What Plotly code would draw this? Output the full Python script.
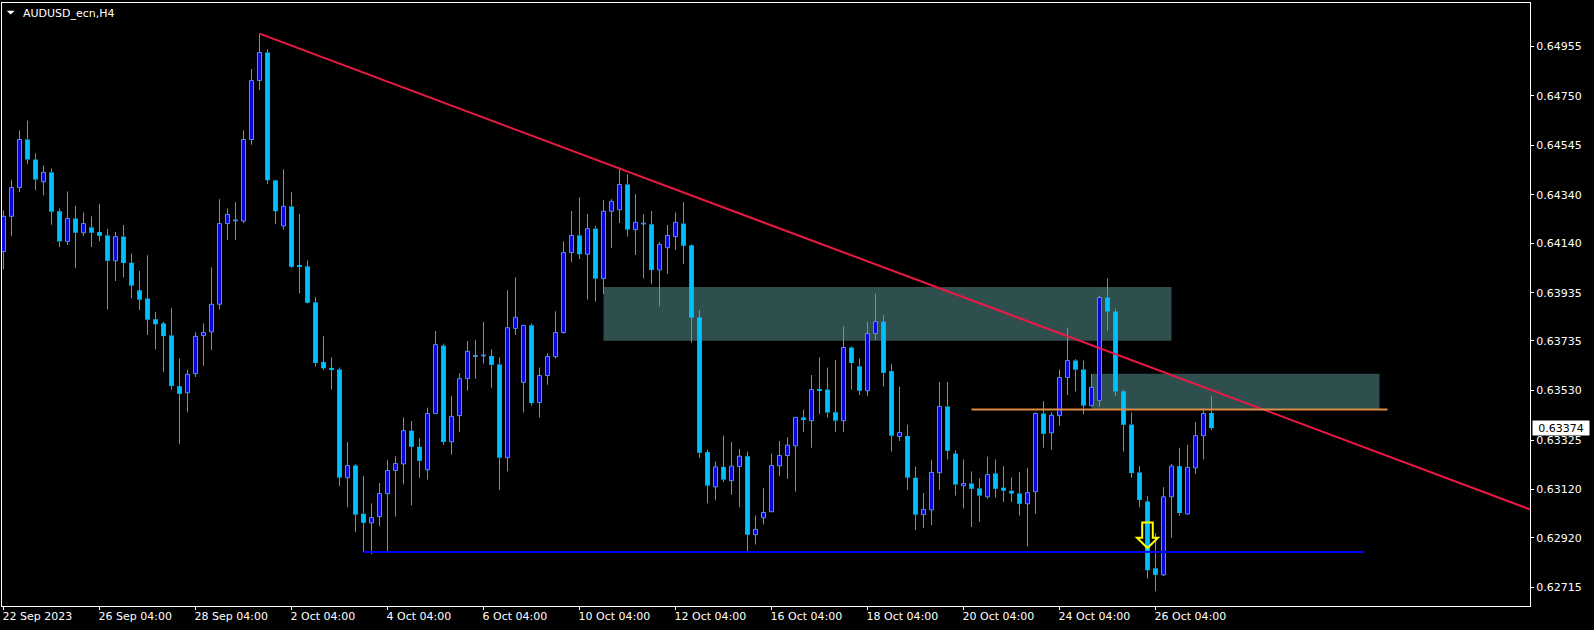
import plotly.graph_objects as go

# ---------------- data (AUDUSD_ecn, H4) ----------------
opens = [0.64105,0.64251,0.64370,0.64569,0.64486,0.64394,0.64433,0.64272,0.64147,0.64242,
         0.64183,0.64205,0.64186,0.64172,0.64067,0.64167,0.64059,0.63945,0.63911,0.63825,
         0.63808,0.63758,0.63548,0.63521,0.63600,0.63757,0.63773,0.63887,0.64221,0.64232,
         0.64232,0.64569,0.64813,0.64929,0.64400,0.64211,0.64292,0.64047,0.64044,0.63895,
         0.63648,0.63621,0.63617,0.63169,0.63220,0.63020,0.62982,0.63008,0.63103,0.63199,
         0.63226,0.63364,0.63297,0.63202,0.63435,0.63716,0.63318,0.63426,0.63579,0.63671,
         0.63673,0.63673,0.63638,0.63252,0.63787,0.63564,0.63800,0.63480,0.63592,0.63670,
         0.63770,0.64101,0.64172,0.64094,0.64200,0.63993,0.64272,0.64278,0.64383,0.64196,
         0.64219,0.64218,0.64029,0.64121,0.64167,0.64221,0.64131,0.63833,0.63275,0.63131,
         0.63214,0.63157,0.63215,0.63258,0.62933,0.63003,0.63028,0.63218,0.63261,0.63301,
         0.63419,0.63405,0.63533,0.63534,0.63440,0.63405,0.63708,0.63630,0.63529,0.63766,
         0.63815,0.63610,0.63340,0.63342,0.63169,0.63016,0.63036,0.63190,0.63464,0.63269,
         0.63136,0.63145,0.63125,0.63090,0.63187,0.63128,0.63115,0.63104,0.63061,0.63111,
         0.63435,0.63355,0.63426,0.63584,0.63654,0.63617,0.63467,0.63489,0.63915,0.63857,
         0.63527,0.63389,0.63191,0.63071,0.62794,0.62767,0.63090,0.63217,0.63019,0.63210,
         0.63343,0.63437]
highs = [0.64275,0.64402,0.64607,0.64647,0.64512,0.64462,0.64449,0.64283,0.64354,0.64295,
         0.64267,0.64251,0.64302,0.64199,0.64186,0.64215,0.64097,0.64025,0.64090,0.63855,
         0.63815,0.63871,0.63662,0.63617,0.63771,0.63808,0.64040,0.64322,0.64283,0.64310,
         0.64607,0.64861,0.65007,0.64943,0.64400,0.64446,0.64351,0.64261,0.64069,0.63917,
         0.63755,0.63668,0.63625,0.63317,0.63225,0.63176,0.63063,0.63147,0.63242,0.63258,
         0.63419,0.63404,0.63332,0.63459,0.63776,0.63724,0.63507,0.63602,0.63735,0.63739,
         0.63814,0.63701,0.63668,0.63945,0.63999,0.63800,0.63808,0.63625,0.63684,0.63858,
         0.64148,0.64273,0.64330,0.64261,0.64211,0.64318,0.64322,0.64454,0.64425,0.64343,
         0.64259,0.64273,0.64145,0.64215,0.64267,0.64310,0.64135,0.63863,0.63285,0.63237,
         0.63343,0.63317,0.63288,0.63277,0.63012,0.63126,0.63269,0.63321,0.63337,0.63419,
         0.63451,0.63594,0.63668,0.63625,0.63657,0.63796,0.63713,0.63662,0.63814,0.63930,
         0.63842,0.63640,0.63545,0.63388,0.63214,0.63106,0.63242,0.63565,0.63565,0.63282,
         0.63245,0.63195,0.63166,0.63256,0.63245,0.63217,0.63171,0.63193,0.63209,0.63439,
         0.63486,0.63439,0.63617,0.63789,0.63660,0.63654,0.63598,0.63922,0.63994,0.63869,
         0.63534,0.63439,0.63217,0.63092,0.62940,0.63130,0.63226,0.63293,0.63305,0.63399,
         0.63448,0.63507]
lows = [0.64032,0.64169,0.64351,0.64468,0.64359,0.64338,0.64216,0.64124,0.64132,0.64037,
        0.64169,0.64124,0.64148,0.63866,0.63983,0.63999,0.63911,0.63863,0.63760,0.63701,
        0.63606,0.63534,0.63309,0.63440,0.63586,0.63632,0.63697,0.63866,0.64153,0.64153,
        0.64223,0.64547,0.64774,0.64384,0.64219,0.64196,0.64037,0.63933,0.63890,0.63629,
        0.63614,0.63534,0.63134,0.63047,0.62944,0.62862,0.62852,0.62968,0.62860,0.63008,
        0.63142,0.63055,0.63169,0.63161,0.63432,0.63305,0.63264,0.63359,0.63529,0.63578,
        0.63641,0.63541,0.63119,0.63195,0.63760,0.63439,0.63467,0.63419,0.63554,0.63662,
        0.63765,0.64061,0.64074,0.63906,0.63898,0.63930,0.64120,0.64223,0.64167,0.64091,
        0.63994,0.63971,0.63879,0.64013,0.64112,0.64053,0.63728,0.63252,0.63063,0.63076,
        0.63150,0.63098,0.63047,0.62860,0.62892,0.62976,0.63027,0.63176,0.63164,0.63111,
        0.63359,0.63293,0.63432,0.63419,0.63359,0.63359,0.63534,0.63511,0.63507,0.63739,
        0.63546,0.63277,0.63321,0.63119,0.62952,0.62960,0.62973,0.63119,0.63245,0.63095,
        0.63042,0.62965,0.62987,0.63082,0.63087,0.63068,0.63068,0.63012,0.62884,0.63020,
        0.63293,0.63285,0.63385,0.63511,0.63526,0.63432,0.63464,0.63462,0.63776,0.63508,
        0.63277,0.63169,0.63047,0.62751,0.62699,0.62762,0.62921,0.63012,0.63016,0.63185,
        0.63245,0.63366]
closes = [0.64251,0.64370,0.64569,0.64486,0.64403,0.64433,0.64270,0.64147,0.64242,0.64183,
          0.64221,0.64183,0.64170,0.64067,0.64167,0.64058,0.63964,0.63906,0.63823,0.63804,
          0.63755,0.63549,0.63516,0.63597,0.63754,0.63770,0.63887,0.64221,0.64259,0.64236,
          0.64569,0.64813,0.64929,0.64400,0.64272,0.64292,0.64042,0.64044,0.63893,0.63644,
          0.63622,0.63617,0.63169,0.63220,0.63016,0.62982,0.63004,0.63104,0.63199,0.63228,
          0.63364,0.63297,0.63239,0.63435,0.63720,0.63317,0.63423,0.63579,0.63692,0.63674,
          0.63674,0.63636,0.63252,0.63790,0.63833,0.63800,0.63478,0.63592,0.63671,0.63770,
          0.64101,0.64172,0.64094,0.64200,0.63993,0.64272,0.64313,0.64383,0.64196,0.64226,
          0.64220,0.64029,0.64135,0.64172,0.64226,0.64129,0.63831,0.63272,0.63136,0.63214,
          0.63161,0.63217,0.63258,0.62933,0.62955,0.63025,0.63220,0.63261,0.63304,0.63419,
          0.63408,0.63534,0.63531,0.63439,0.63405,0.63708,0.63644,0.63529,0.63766,0.63815,
          0.63603,0.63343,0.63356,0.63169,0.63016,0.63038,0.63191,0.63464,0.63280,0.63141,
          0.63145,0.63123,0.63095,0.63182,0.63123,0.63115,0.63103,0.63061,0.63107,0.63435,
          0.63351,0.63427,0.63584,0.63654,0.63616,0.63467,0.63543,0.63915,0.63857,0.63526,
          0.63388,0.63188,0.63077,0.62786,0.62767,0.63090,0.63217,0.63023,0.63212,0.63343,
          0.63435,0.63374]

time_tick_bars = [0, 12, 24, 36, 48, 60, 72, 84, 96, 108, 120, 132, 144]
time_tick_labels = ["22 Sep 2023", "26 Sep 04:00", "28 Sep 04:00", "2 Oct 04:00", "4 Oct 04:00",
                    "6 Oct 04:00", "10 Oct 04:00", "12 Oct 04:00", "16 Oct 04:00", "18 Oct 04:00",
                    "20 Oct 04:00", "24 Oct 04:00", "26 Oct 04:00"]
price_ticks = [0.64955, 0.64750, 0.64545, 0.64340, 0.64140, 0.63935,
               0.63735, 0.63530, 0.63325, 0.63120, 0.62920, 0.62715]
price_tick_labels = ["0.64955", "0.64750", "0.64545", "0.64340", "0.64140", "0.63935",
                     "0.63735", "0.63530", "0.63325", "0.63120", "0.62920", "0.62715"]
last_price = 0.63374
symbol_title = "AUDUSD_ecn,H4"

# chart drawings (bar index / price anchors)
zone_bars = [[75, 146], [136, 172]]
zone_prices = [[0.63736, 0.63958], [0.63451, 0.63599]]
trend_bars = [32, 157.5]
trend_prices = [0.65007, 0.63451]
support_bars = [45, 170]
support_price = 0.62862
resist_bars = [121, 173]
resist_price = 0.63451
arrow_bar = 143
arrow_price = 0.62878

# ---------------- styling ----------------
BG = "black"
WICK = "#5B8FE8"
BULL = "#0808DC"
BEAR = "#00BFFF"
FONT = "DejaVu Sans"
X_RANGE = [-0.1875, 190.8125]
Y_RANGE = [0.62638, 0.65134]
MIN_BODY = 0.00004

n = len(opens)
idx = list(range(n))

wx, wy = [], []
bull_x, bull_base, bull_h = [], [], []
bear_x, bear_base, bear_h = [], [], []
for i in idx:
    o, h, l, c = opens[i], highs[i], lows[i], closes[i]
    top, bot = max(o, c), min(o, c)
    if h > top:
        wx += [i, i, None]; wy += [top, h, None]
    if l < bot:
        wx += [i, i, None]; wy += [l, bot, None]
    hgt = max(top - bot, MIN_BODY)
    if c >= o:
        bull_x.append(i); bull_base.append(bot); bull_h.append(hgt)
    else:
        bear_x.append(i); bear_base.append(bot); bear_h.append(hgt)

fig = go.Figure()
fig.add_trace(go.Scatter(x=wx, y=wy, mode="lines", line=dict(color=WICK, width=1),
                         hoverinfo="skip"))
fig.add_trace(go.Bar(x=bull_x, y=bull_h, base=bull_base, width=0.5,
                     marker=dict(color=BULL, line=dict(color=WICK, width=1)), hoverinfo="skip"))
fig.add_trace(go.Bar(x=bear_x, y=bear_h, base=bear_base, width=0.6,
                     marker=dict(color=BEAR, line=dict(width=0)), hoverinfo="skip"))

shapes = []
for (xa, xb), (ya, yb) in zip(zone_bars, zone_prices):
    shapes.append(dict(type="rect", xref="x", yref="y", x0=xa, x1=xb, y0=ya, y1=yb,
                       fillcolor="#2F4F4F", line=dict(width=0), layer="below"))

slope = (trend_prices[1] - trend_prices[0]) / (trend_bars[1] - trend_bars[0])
tx1 = X_RANGE[1] + 2
shapes.append(dict(type="line", xref="x", yref="y", x0=trend_bars[0], y0=trend_prices[0],
                   x1=tx1, y1=trend_prices[0] + slope * (tx1 - trend_bars[0]),
                   line=dict(color="#EE1846", width=2), layer="above"))
shapes.append(dict(type="line", xref="x", yref="y", x0=support_bars[0], x1=support_bars[1],
                   y0=support_price, y1=support_price, line=dict(color="#0000FF", width=2),
                   layer="above"))
shapes.append(dict(type="line", xref="x", yref="y", x0=resist_bars[0], x1=resist_bars[1],
                   y0=resist_price, y1=resist_price, line=dict(color="#DD8A45", width=2),
                   layer="above"))
# hollow down arrow (pixel-sized, anchored at its tip)
shapes.append(dict(type="path", xref="x", yref="y", xsizemode="pixel", ysizemode="pixel",
                   xanchor=arrow_bar, yanchor=arrow_price,
                   path="M 0,0 L -10.5,10.3 L -5.3,10.3 L -5.3,25.6 L 5.3,25.6 L 5.3,10.3 L 10.5,10.3 Z",
                   line=dict(color="#FFFF00", width=2), fillcolor="rgba(0,0,0,0)", layer="above"))
# title triangle
shapes.append(dict(type="path", xref="paper", yref="paper", xsizemode="pixel", ysizemode="pixel",
                   xanchor=0, yanchor=1, path="M 4.7,-7.7 L 12.7,-7.7 L 8.7,-11.5 Z",
                   line=dict(color="white", width=0), fillcolor="white", layer="above"))

annotations = [
    dict(xref="paper", yref="paper", x=0, y=1, xanchor="left", yanchor="top",
         xshift=18.7, yshift=-2, text=symbol_title, showarrow=False,
         font=dict(family=FONT, size=11, color="white")),
    dict(xref="paper", yref="y", x=1, y=last_price, xanchor="left", yanchor="middle",
         xshift=2, text=f"{last_price:.5f}", showarrow=False, bgcolor="white",
         width=54, height=12, borderpad=1, align="center",
         font=dict(family=FONT, size=11, color="black")),
]

fig.update_layout(width=1594, height=630, margin=dict(l=2, r=64, t=3, b=24),
                  paper_bgcolor=BG, plot_bgcolor=BG, showlegend=False, barmode="overlay",
                  hovermode=False, font=dict(family=FONT, size=11, color="white"),
                  shapes=shapes, annotations=annotations)
fig.update_xaxes(range=X_RANGE, tickmode="array", tickvals=time_tick_bars, ticktext=time_tick_labels,
                 ticks="outside", ticklen=3, tickcolor="white", showgrid=False, zeroline=False,
                 showline=True, linecolor="white", linewidth=1, mirror=True,
                 ticklabelposition="outside right", ticklabelshift=-2,
                 tickfont=dict(family=FONT, size=11, color="white"), fixedrange=True)
fig.update_yaxes(range=Y_RANGE, side="right", tickmode="array", tickvals=price_ticks,
                 ticktext=price_tick_labels, ticks="outside", ticklen=3, tickcolor="white",
                 showgrid=False, zeroline=False, showline=True, linecolor="white", linewidth=1,
                 mirror=True, tickfont=dict(family=FONT, size=11, color="white"), fixedrange=True)

fig.write_html("out.html", config={"displayModeBar": False},
               post_script="document.body.style.margin='0';document.body.style.overflow='hidden';")
